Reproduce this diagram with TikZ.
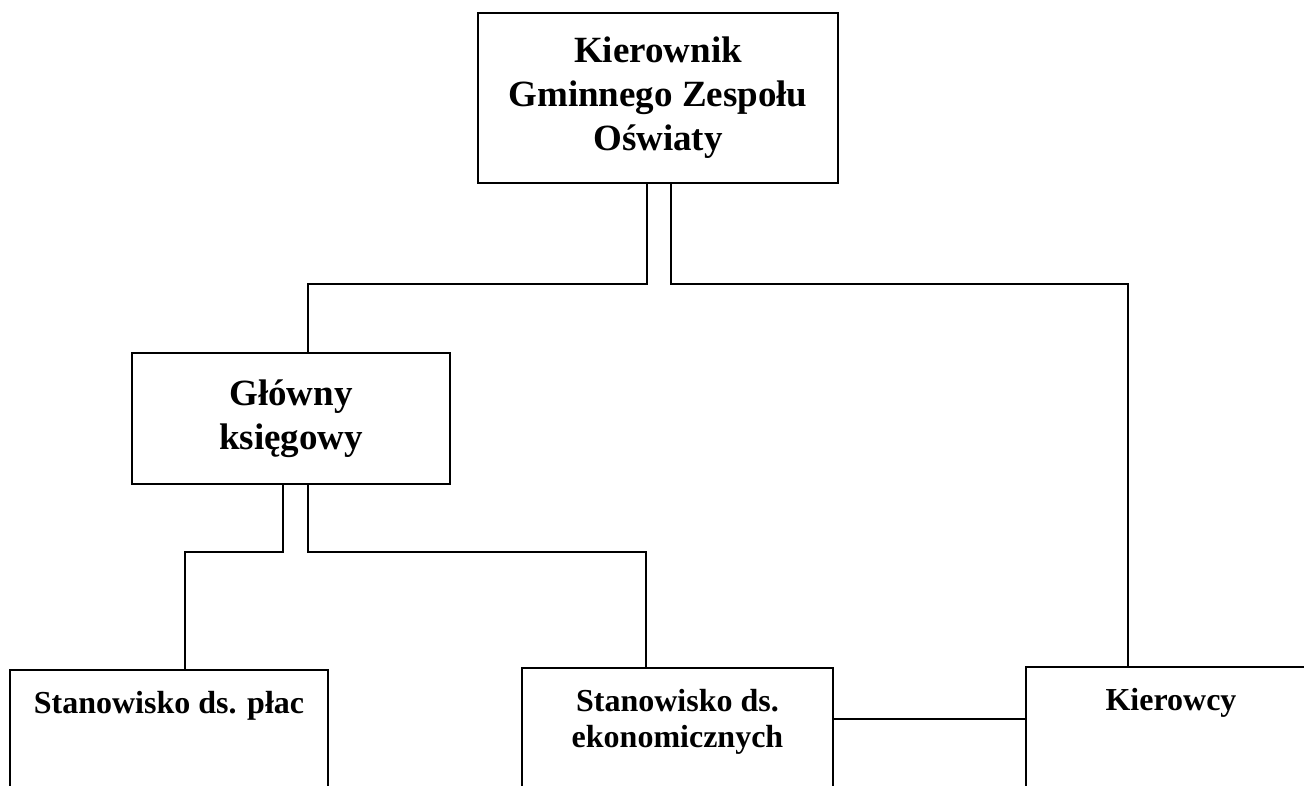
\documentclass[tikz,border=0pt]{standalone}
\usepackage{fontspec}
\setmainfont{Liberation Serif}
\begin{document}
\begin{tikzpicture}[x=1pt,y=-1pt,
  box/.style={draw, line width=2.2pt, rectangle, inner sep=0pt},
  bigtxt/.style={align=center, inner sep=0pt, font=\fontsize{37}{44}\selectfont\bfseries},
  lowtxt/.style={align=center, inner sep=0pt, font=\fontsize{32}{36}\selectfont\bfseries},
  conn/.style={line width=2pt}]
\clip (0,0) rectangle (1304,785);
\fill[white] (0,0) rectangle (1304,785);
% boxes
\node[box, minimum width=360pt, minimum height=170pt, bigtxt] (top) at (658,98)
  {Kierownik\\Gminnego Zespołu\\Oświaty};
\node[box, minimum width=318pt, minimum height=131pt, bigtxt] (glowny) at (291,418.5)
  {Główny\\księgowy};
\node[box, minimum width=318pt, minimum height=160pt] (plac) at (169,750) {};
\node[box, minimum width=311pt, minimum height=162pt] (ekon) at (677.5,749) {};
\node[box, minimum width=290pt, minimum height=163pt] (kier) at (1171,748.5) {};
% texts of the lower boxes
\node[lowtxt, anchor=base] (plactxt) at (169,713) {Stanowisko ds. płac};
\node[lowtxt, anchor=center] (ekontxt) at (677.5,722) {Stanowisko ds.\\ekonomicznych};
\node[lowtxt, anchor=base] (kiertxt) at (1171,710) {Kierowcy};
% connectors
\draw[conn] ([xshift=-11pt]top.south) -- ++(0,100) -| ([xshift=17pt]glowny.north);
\draw[conn] ([xshift=13pt]top.south) -- ++(0,100) -| ([xshift=-43pt]kier.north);
\draw[conn] ([xshift=-8pt]glowny.south) -- ++(0,67) -| ([xshift=16pt]plac.north);
\draw[conn] ([xshift=17pt]glowny.south) -- ++(0,67) -| ([xshift=-31.5pt]ekon.north);
\coordinate (h) at ([yshift=30pt]ekon.east);
\draw[conn] (h) -- (h -| kier.west);
\end{tikzpicture}
\end{document}
